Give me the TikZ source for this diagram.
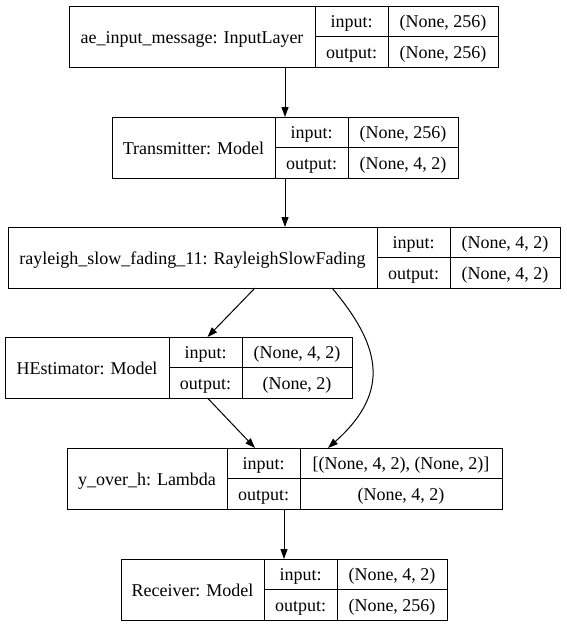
\documentclass[tikz,border=0pt]{standalone}
\usepackage{fontspec}
\setmainfont{Liberation Serif}
\usetikzlibrary{arrows.meta,positioning,fit}
\begin{document}
\begin{tikzpicture}[x=1pt,y=1pt,yscale=-1,
  cell/.style={draw, rectangle, inner sep=0pt, outer sep=0pt, line width=1pt, anchor=north west,
    font=\fontsize{18}{20}\selectfont, text height=16pt, text depth=3pt},
  namecell/.style={cell, minimum height=61pt},
  halfcell/.style={cell, minimum height=30.5pt},
  lbl/.style={halfcell, minimum width=73pt},
  valcell/.style={halfcell, minimum width=110pt},
  record/.style={inner sep=0pt, outer sep=0pt},
  link/.style={line width=1pt, -{Triangle[length=10pt,width=7pt]}}]
\useasboundingbox (0,0) rectangle (566,627);

% ae_input_message
\node[namecell, minimum width=246pt] (inp) at (69,6) {ae\_input\_message: InputLayer};
\node[lbl] (inpin) at (inp.north east) {input:};
\node[lbl] (inpout) at (inpin.south west) {output:};
\node[valcell] (inpvi) at (inpin.north east) {(None, 256)};
\node[valcell] (inpvo) at (inpout.north east) {(None, 256)};
\node[record, fit=(inp)(inpvo)] (inpbox) {};

% Transmitter
\node[namecell, minimum width=163pt] (tx) at (112,117) {Transmitter: Model};
\node[lbl] (txin) at (tx.north east) {input:};
\node[lbl] (txout) at (txin.south west) {output:};
\node[valcell] (txvi) at (txin.north east) {(None, 256)};
\node[valcell] (txvo) at (txout.north east) {(None, 4, 2)};
\node[record, fit=(tx)(txvo)] (txbox) {};

% rayleigh_slow_fading_11
\node[namecell, minimum width=369pt] (ray) at (8,227) {rayleigh\_slow\_fading\_11: RayleighSlowFading};
\node[lbl] (rayin) at (ray.north east) {input:};
\node[lbl] (rayout) at (rayin.south west) {output:};
\node[valcell] (rayvi) at (rayin.north east) {(None, 4, 2)};
\node[valcell] (rayvo) at (rayout.north east) {(None, 4, 2)};
\node[record, fit=(ray)(rayvo)] (raybox) {};

% HEstimator
\node[namecell, minimum width=164pt] (hest) at (5,337) {HEstimator: Model};
\node[lbl] (hestin) at (hest.north east) {input:};
\node[lbl] (hestout) at (hestin.south west) {output:};
\node[valcell] (hestvi) at (hestin.north east) {(None, 4, 2)};
\node[valcell] (hestvo) at (hestout.north east) {(None, 2)};
\node[record, fit=(hest)(hestvo)] (hestbox) {};

% y_over_h
\node[namecell, minimum width=160pt] (yoh) at (67,448) {y\_over\_h: Lambda};
\node[lbl] (yohin) at (yoh.north east) {input:};
\node[lbl] (yohout) at (yohin.south west) {output:};
\node[valcell, minimum width=202pt] (yohvi) at (yohin.north east) {[(None, 4, 2), (None, 2)]};
\node[valcell, minimum width=202pt] (yohvo) at (yohout.north east) {(None, 4, 2)};
\node[record, fit=(yoh)(yohvo)] (yohbox) {};

% Receiver
\node[namecell, minimum width=143pt] (rec) at (121,559) {Receiver: Model};
\node[lbl] (recin) at (rec.north east) {input:};
\node[lbl] (recout) at (recin.south west) {output:};
\node[valcell] (recvi) at (recin.north east) {(None, 4, 2)};
\node[valcell] (recvo) at (recout.north east) {(None, 256)};
\node[record, fit=(rec)(recvo)] (recbox) {};

% edges
\draw[link] (inpbox.south -| txbox.north) -- (txbox.north);
\draw[link] (txbox.south) -- (txbox.south |- raybox.north);
\draw[link] ([xshift=-29pt]raybox.south) -- ([xshift=29pt]hestbox.north);
\draw[link] ([xshift=48pt]raybox.south) .. controls +(48,57) and +(64,-57) .. ([xshift=43.5pt]yohbox.north);
\draw[link] ([xshift=29pt]hestbox.south) -- ([xshift=-29.5pt]yohbox.north);
\draw[link] (recbox.north |- yohbox.south) -- (recbox.north);
\end{tikzpicture}
\end{document}
